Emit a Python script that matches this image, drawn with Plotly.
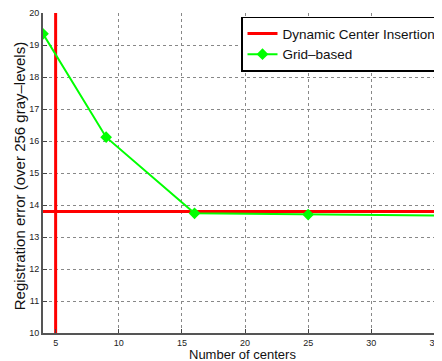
import plotly.graph_objects as go

grid_centers = [4, 9, 16, 25, 36]
grid_error = [19.35, 16.12, 13.74, 13.70, 13.67]
dci_centers = 5
dci_error = 13.8
x_ticks = [5, 10, 15, 20, 25, 30, 35]
y_ticks = list(range(10, 21))
x_range = [4, 35.6]
y_range = [10, 20]

FONT = "Liberation Sans, Arial"

fig = go.Figure()
fig.add_trace(go.Scatter(
    x=[dci_centers, dci_centers], y=y_range, mode="lines",
    line=dict(color="#ff0000", width=3), name="Dynamic Center Insertion",
    showlegend=True))
fig.add_trace(go.Scatter(
    x=[x_range[0], 40], y=[dci_error, dci_error], mode="lines",
    line=dict(color="#ff0000", width=3), showlegend=False))
fig.add_trace(go.Scatter(
    x=grid_centers, y=grid_error, mode="lines+markers",
    line=dict(color="#00ff00", width=2),
    marker=dict(symbol="diamond", size=9, color="#00ff00"),
    name="Grid\u2013based"))

axis_common = dict(
    showgrid=True, gridcolor="#888888", griddash="dot", gridwidth=1,
    showline=True, linecolor="#555555", linewidth=2,
    ticks="inside", ticklen=4, tickcolor="#444444",
    tickfont=dict(family=FONT, size=9, color="#222222"),
    zeroline=False, mirror=False, automargin=False,
)
fig.update_xaxes(range=x_range, tickvals=x_ticks, **axis_common, title=None)
fig.update_yaxes(range=y_range, tickvals=y_ticks, **axis_common, title=None)

fig.add_annotation(text="Number of centers", xref="paper", yref="paper",
                   x=0.5, y=-0.068, xanchor="center", yanchor="middle",
                   showarrow=False, font=dict(family=FONT, size=13, color="#111111"))
fig.add_annotation(text="Registration error (over 256 gray\u2013levels)",
                   xref="paper", yref="paper", x=-0.060, y=0.49, textangle=-90,
                   xanchor="center", yanchor="middle",
                   showarrow=False, font=dict(family=FONT, size=15, color="#111111"))

fig.update_layout(
    width=434, height=353,
    margin=dict(l=35, r=0, t=5, b=28),
    plot_bgcolor="white", paper_bgcolor="white",
    legend=dict(x=1.0, y=0.988, xanchor="right", yanchor="top",
                bgcolor="white", bordercolor="#000000", borderwidth=1.5,
                font=dict(family=FONT, size=13.5, color="#111111"),
                tracegroupgap=0, itemwidth=30),
)
fig.write_html("out.html")
